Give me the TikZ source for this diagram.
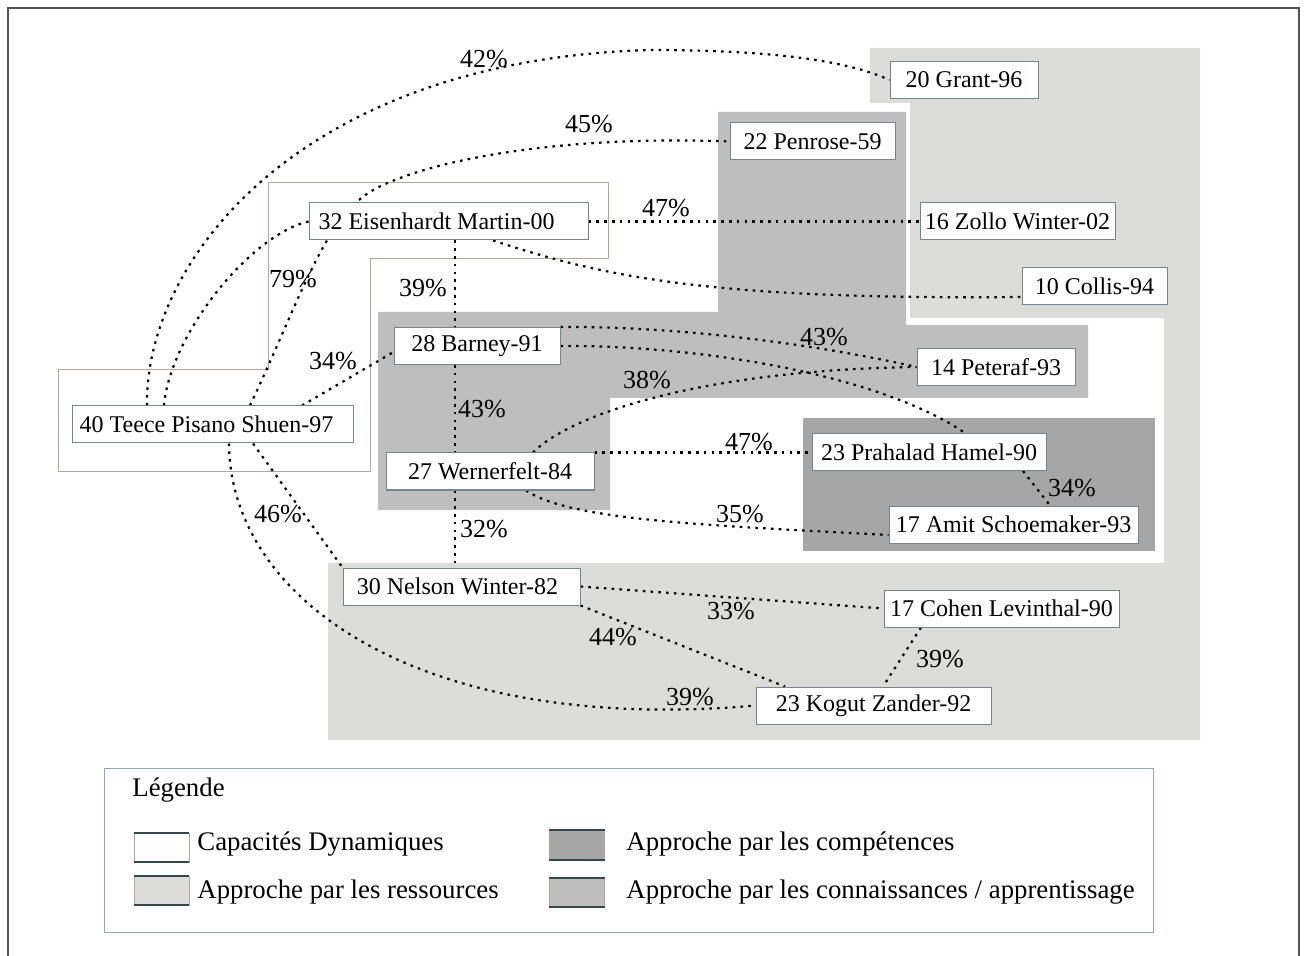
\documentclass[tikz,border=0pt]{standalone}
\usepackage{fontspec}
\setmainfont{Liberation Serif}
\usetikzlibrary{calc}
\pgfdeclarelayer{bg}
\pgfdeclarelayer{edges}
\pgfsetlayers{bg,edges,main}
\definecolor{res}{RGB}{220,221,219}
\definecolor{con}{RGB}{190,190,190}
\definecolor{comp}{RGB}{166,166,166}
\definecolor{nodeb}{RGB}{120,132,140}
\definecolor{capb}{RGB}{185,165,160}
\definecolor{framec}{RGB}{85,85,85}
\definecolor{legb}{RGB}{150,165,175}
\definecolor{swdark}{RGB}{55,70,75}
\begin{document}
\begin{tikzpicture}[x=0.5pt,y=-0.5pt,
  pbox/.style={draw=nodeb, line width=0.5pt, fill=white, minimum height=18.5pt, inner sep=0pt, font=\fontsize{12}{14}\selectfont},
  lnk/.style={line width=1.1pt, dash pattern=on 1.3pt off 2.6pt, black},
  pct/.style={inner sep=0pt, font=\fontsize{13}{15}\selectfont},
  legtxt/.style={inner sep=0pt, anchor=west, font=\fontsize{13.4}{16}\selectfont},
  swatch/.style={draw=capb, line width=0.4pt, minimum width=27.5pt, minimum height=14.5pt, inner sep=0pt},
  swline/.style={draw=swdark, line width=1pt}]
\useasboundingbox (0,0) rectangle (1305,956);

% background regions
\begin{pgfonlayer}{bg}
\fill[res] (870,48) -- (1200,48) -- (1200,740) -- (328,740) -- (328,563) -- (1164,563) -- (1164,318) -- (910,318) -- (910,103) -- (870,103) -- cycle;
\fill[con] (378,312) -- (718,312) -- (718,112) -- (906,112) -- (906,325) -- (1088,325) -- (1088,398) -- (610,398) -- (610,510) -- (378,510) -- cycle;
\fill[comp] (803,418) rectangle (1155,551);
\filldraw[fill=white, draw=capb, line width=0.5pt] (58,370) -- (268,370) -- (268,183) -- (608,183) -- (608,259) -- (370,259) -- (370,472) -- (58,472) -- cycle;
\end{pgfonlayer}

% outer frame
\draw[framec, line width=1pt] (8,970) -- (8,8) -- (1299,8) -- (1299,970);

% nodes
\node[pbox, minimum width=74pt] (grant) at (964,80) {20 Grant-96};
\node[pbox, minimum width=82.5pt] (pen) at (812.5,141.5) {22 Penrose-59};
\node[pbox, minimum width=97.5pt] (zol) at (1017.5,221.5) {16 Zollo Winter-02};
\node[pbox, minimum width=72.5pt] (col) at (1094.5,286.5) {10 Collis-94};
\node[pbox, minimum width=139.5pt] (eis) at (448.5,221.5) {32 Eisenhardt Martin-00\kern12pt};
\node[pbox, minimum width=83pt] (bar) at (477,346) {28 Barney-91};
\node[pbox, minimum width=140.5pt] (teece) at (212.5,424.5) {40 Teece Pisano Shuen-97\kern6pt};
\node[pbox, minimum width=104pt] (wer) at (490,471.5) {27 Wernerfelt-84};
\node[pbox, minimum width=79pt] (pet) at (996,367) {14 Peteraf-93};
\node[pbox, minimum width=117pt] (prah) at (929,452) {23 Prahalad Hamel-90};
\node[pbox, minimum width=124.5pt] (amit) at (1013.5,524.5) {17 Amit Schoemaker-93};
\node[pbox, minimum width=117.5pt] (coh) at (1001.5,608.5) {17 Cohen Levinthal-90};
\node[pbox, minimum width=117.5pt] (kog) at (873.5,705.5) {23 Kogut Zander-92};
\node[pbox, minimum width=118.5pt] (nel) at (461.5,586.5) {30 Nelson Winter-82\kern4pt};

% connectors
\begin{pgfonlayer}{edges}
\draw[lnk] (teece.north -| 147,0) .. controls (145,260) and (300,60) .. (650,50) .. controls (780,50) and (850,62) .. (grant.west);
\draw[lnk] (teece.north -| 164,0) .. controls (170,335) and (250,235) .. (eis.west);
\draw[lnk] (teece.north -| 250,0) .. controls (300,300) and (325,215) .. (375,189) .. controls (430,160) and (560,135) .. (pen.west);
\draw[lnk] (eis.east) -- (zol.west);
\draw[lnk] (eis.south -| 493,0) .. controls (600,275) and (700,300) .. (col.west |- 0,297);
\coordinate (vx) at (455,0);
\draw[lnk] (eis.south -| vx) -- (bar.north -| vx);
\draw[lnk] (bar.south -| vx) -- (wer.north -| vx);
\draw[lnk] (wer.south -| vx) -- (nel.north -| vx);
\draw[lnk] (teece.north -| 302,0) -- (bar.west |- 0,352);
\draw[lnk] (bar.north east) .. controls (680,326) and (820,345) .. (pet.west);
\draw[lnk] (bar.east) .. controls (700,345) and (880,375) .. (prah.north -| 965,0);
\draw[lnk] (wer.north -| 533,0) .. controls (570,415) and (700,370) .. (pet.west);
\draw[lnk] (wer.north east) -- (prah.west |- wer.north east);
\draw[lnk] (wer.south -| 526,0) .. controls (570,520) and (700,525) .. (amit.west |- 0,535);
\draw[lnk] (prah.south -| 1023,0) -- (amit.north -| 1050,0);
\draw[lnk] (teece.south -| 253,0) -- (nel.north west);
\draw[lnk] (teece.south -| 229,0) .. controls (230,600) and (420,735) .. (kog.west);
\draw[lnk] (nel.east) -- (coh.west);
\draw[lnk] (nel.south east) -- (kog.north -| 785,0);
\draw[lnk] (coh.south -| 921,0) -- (kog.north -| 883,0);
\end{pgfonlayer}

% connector labels
\node[pct] (p42) at (484,59) {42\%};
\node[pct] (p45) at (589,124) {45\%};
\node[pct] (p47a) at (666,208) {47\%};
\node[pct] (p79) at (293,279) {79\%};
\node[pct] (p39a) at (423,288) {39\%};
\node[pct] (p34a) at (333,361) {34\%};
\node[pct] (p43a) at (482,409) {43\%};
\node[pct] (p43b) at (824,337) {43\%};
\node[pct] (p38) at (647,380) {38\%};
\node[pct] (p47b) at (749,442) {47\%};
\node[pct] (p35) at (740,514) {35\%};
\node[pct] (p34b) at (1072,488) {34\%};
\node[pct] (p46) at (278,514) {46\%};
\node[pct] (p32) at (484,529) {32\%};
\node[pct] (p33) at (731,611) {33\%};
\node[pct] (p44) at (613,637) {44\%};
\node[pct] (p39b) at (690,697) {39\%};
\node[pct] (p39c) at (940,659) {39\%};

% legend
\draw[legb, line width=0.5pt] (104,768) rectangle (1153,932);
\node[legtxt] (legt) at (132,790) {Légende};
\node[swatch, fill=white] (sw1) at (161.5,847.5) {};
\node[swatch, fill=res] (sw2) at (161.5,890.5) {};
\node[swatch, fill=comp] (sw3) at (577,845) {};
\node[swatch, fill=con] (sw4) at (577,892.5) {};
\foreach \s in {sw1,sw2,sw3,sw4}{
  \draw[swline] (\s.north west) -- (\s.north east);
  \draw[swline] (\s.south west) -- (\s.south east);
}
\node[legtxt] (lt1) at (197,844) {Capacités Dynamiques};
\node[legtxt] (lt2) at (197,892) {Approche par les ressources};
\node[legtxt] (lt3) at (626,844) {Approche par les compétences};
\node[legtxt] (lt4) at (626,892) {Approche par les connaissances / apprentissage};
\end{tikzpicture}
\end{document}
